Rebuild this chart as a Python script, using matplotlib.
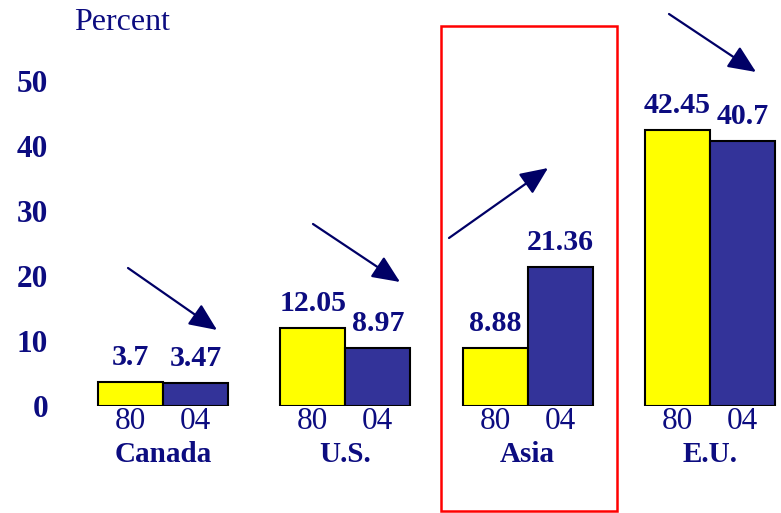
import numpy as np
import matplotlib.pyplot as plt
from matplotlib.patches import Rectangle

plt.rcParams['font.family'] = ['Liberation Serif', 'DejaVu Serif']

regions = ['Canada', 'U.S.', 'Asia', 'E.U.']
years = ['80', '04']
share_80 = [3.7, 12.05, 8.88, 42.45]
share_04 = [3.47, 8.97, 21.36, 40.7]
yticks = [0, 10, 20, 30, 40, 50]

navy = '#0c0c80'
W, H = 781, 513

fig = plt.figure(figsize=(W / 100, H / 100), dpi=100)
# axes in pixel terms: left 55px, baseline at 406px, 6.5px per percent
ax = fig.add_axes([55 / W, (H - 406) / H, 1 - 55 / W, 390 / H])
ax.set_xlim((55 - 163) / 182.3, (781 - 163) / 182.3)
ax.set_ylim(0, 60)

X = np.arange(len(regions))
bw = 65 / 182.3
ax.bar(X - bw / 2, share_80, width=bw, color='#ffff00', edgecolor='black', linewidth=1.5)
ax.bar(X + bw / 2, share_04, width=bw, color='#333399', edgecolor='black', linewidth=1.5)

for x, v in zip(X - bw / 2, share_80):
    ax.annotate(f'{v:g}', (x, v), xytext=(0, 8), textcoords='offset points',
                ha='center', va='bottom', fontsize=21.5, fontweight='bold', color=navy)
for x, v in zip(X + bw / 2, share_04):
    ax.annotate(f'{v:g}', (x, v), xytext=(0, 8), textcoords='offset points',
                ha='center', va='bottom', fontsize=21.5, fontweight='bold', color=navy)

for i, name in enumerate(regions):
    ax.text(i - bw / 2, -2.4, years[0], ha='center', va='center', fontsize=22.5, color=navy)
    ax.text(i + bw / 2, -2.4, years[1], ha='center', va='center', fontsize=22.5, color=navy)
    ax.text(i, -7.4, name, ha='center', va='center', fontsize=21, fontweight='bold', color=navy)

ax.set_yticks(yticks)
ax.set_yticklabels([str(t) for t in yticks], fontsize=22.5, fontweight='bold', color=navy)
ax.tick_params(axis='y', length=0, pad=5)
ax.set_xticks([])
for s in ax.spines.values():
    s.set_visible(False)
ax.patch.set_visible(False)

fig.text(122 / W, 1 - 23 / H, 'Percent', ha='center', va='center', fontsize=23, color=navy)

# trend arrows (figure pixels, y from top)
arrows = [((128, 268), (217, 330)), ((313, 224), (400, 282)),
          ((449, 238), (548, 168)), ((669, 14), (756, 72))]
for (x0, y0), (x1, y1) in arrows:
    fig.add_artist(plt.Annotation('', xy=(x1 / W, 1 - y1 / H), xytext=(x0 / W, 1 - y0 / H),
                                  xycoords='figure fraction', textcoords='figure fraction',
                                  arrowprops=dict(arrowstyle='-|>,head_length=1.7,head_width=0.75',
                                                  color='#000066', lw=1.6, shrinkA=0, shrinkB=0)))

fig.add_artist(Rectangle((441 / W, 1 - 511 / H), 176 / W, 485 / H, transform=fig.transFigure,
                         fill=False, edgecolor='#ff0000', linewidth=1.8))

plt.savefig('out.png', dpi=100)
